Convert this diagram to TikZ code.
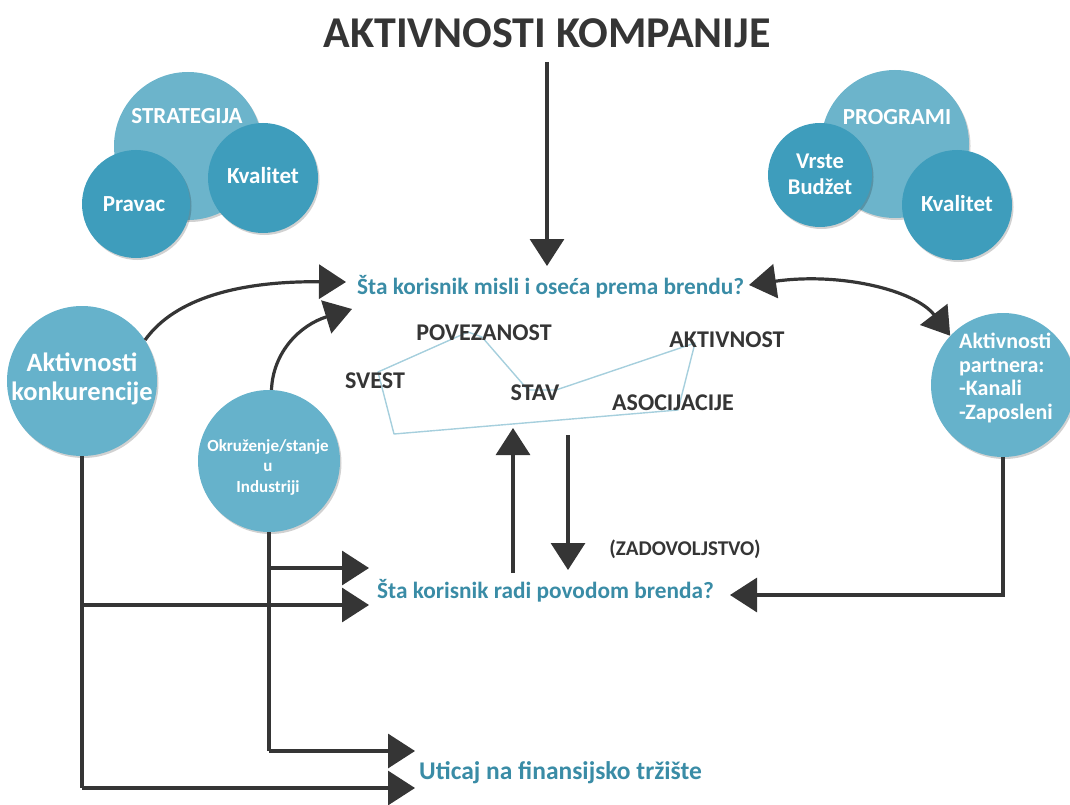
\documentclass[tikz,border=0pt]{standalone}
\usepackage{fontspec}
\setmainfont{Carlito}
\usetikzlibrary{arrows.meta,shadows}

\definecolor{ink}{HTML}{353535}
\definecolor{teal}{HTML}{3A8CA6}
\definecolor{bigblue}{HTML}{6CB4CB}
\definecolor{smallblue}{HTML}{3E9DBC}
\definecolor{sideblue}{HTML}{66B2CB}
\definecolor{webline}{HTML}{A6CFDD}

\tikzset{
  bubble/.style={circle, inner sep=0pt, draw=none,
    drop shadow={shadow xshift=1.5pt, shadow yshift=-2pt, opacity=0.18, fill=black}},
  bigbubble/.style={bubble, fill=bigblue},
  smallbubble/.style={bubble, fill=smallblue},
  sidebubble/.style={bubble, fill=sideblue},
  bubbletext/.style={text=white, font=\bfseries\fontsize{23}{27}\selectfont, align=center, inner sep=0pt},
  question/.style={text=teal, font=\bfseries\fontsize{23.3}{27}\selectfont, inner sep=0pt},
  keyword/.style={text=ink, font=\bfseries\fontsize{24}{27}\selectfont, inner sep=0pt},
  wire/.style={draw=ink, line width=3.2pt},
  conn/.style={wire, -{Triangle[length=27pt,width=34pt]}},
  biconn/.style={wire, {Triangle[length=27pt,width=34pt]}-{Triangle[length=27pt,width=34pt]}},
}

\begin{document}
\begin{tikzpicture}[x=1pt,y=-1pt]
\useasboundingbox (0,0) rectangle (1070,805);

% title
\node[text=ink, font=\bfseries\fontsize{44}{46}\selectfont, inner sep=0pt] (title) at (547,33) {AKTIVNOSTI KOMPANIJE};

% strategy cluster
\node[bigbubble, minimum size=148pt] (strat) at (188,146) {};
\node[smallbubble, minimum size=108pt] (pravac) at (136,204) {};
\node[smallbubble, minimum size=110pt] (kval1) at (263,178) {};
\node[bubbletext] (stratlbl) at (187,116) {STRATEGIJA};
\node[bubbletext] (pravaclbl) at (134,204) {Pravac};
\node[bubbletext] (kval1lbl) at (263,176) {Kvalitet};

% programme cluster
\node[bigbubble, minimum size=148pt] (prog) at (895,144) {};
\node[smallbubble, minimum size=104pt] (vrste) at (820,175) {};
\node[smallbubble, minimum size=110pt] (kval2) at (957,205) {};
\node[bubbletext] (proglbl) at (897,117) {PROGRAMI};
\node[bubbletext, font=\bfseries\fontsize{22.5}{26}\selectfont] (vrstelbl) at (820,174) {Vrste\\Budžet};
\node[bubbletext] (kval2lbl) at (957,204) {Kvalitet};

% side circles
\node[sidebubble, minimum size=150pt] (konk) at (82,381) {};
\node[bubbletext, font=\bfseries\fontsize{26.5}{29}\selectfont] (konklbl) at (82,379) {Aktivnosti\\konkurencije};
\node[sidebubble, minimum size=142pt] (okr) at (269,461) {};
\node[bubbletext, font=\bfseries\fontsize{17}{20.5}\selectfont] (okrlbl) at (268,467) {Okruženje/stanje\\u\\Industriji};
\node[sidebubble, minimum size=144pt] (part) at (1003,385) {};
\node[bubbletext, align=left, font=\bfseries\fontsize{22}{23.5}\selectfont] (partlbl) at (1006,378) {Aktivnosti\\partnera:\\-Kanali\\-Zaposleni};

% questions
\node[question, anchor=west] (q1) at (357,287) {Šta korisnik misli i oseća prema brendu?};
\node[question, anchor=west] (q2) at (377,591) {Šta korisnik radi povodom brenda?};
\node[question, anchor=west, font=\bfseries\fontsize{25.5}{29}\selectfont] (q3) at (419,773) {Uticaj na finansijsko tržište};

% brand associations web
\draw[webline, line width=1.4pt, line join=round]
  (378,372) -- (468,332) -- (482,337) -- (528,390) -- (556,390)
  -- (695,343) -- (678,410) -- (394,434) -- cycle;
\node[keyword] (povez) at (484,333) {POVEZANOST};
\node[keyword] (aktiv) at (727,340) {AKTIVNOST};
\node[keyword] (svest) at (375,381) {SVEST};
\node[keyword] (stav) at (535,393) {STAV};
\node[keyword] (asoc) at (673,403) {ASOCIJACIJE};
\node[keyword, font=\bfseries\fontsize{21}{24}\selectfont] (zadov) at (685,549) {(ZADOVOLJSTVO)};

% connector end points
\coordinate (titletop) at (547,62);
\coordinate (q1top) at (547,266);
\coordinate (q1left) at (346,282);
\coordinate (q1lower) at (352,309);
\coordinate (q1right) at (749,285);
\coordinate (webup) at (513,428);
\coordinate (webdown) at (568,435);
\coordinate (q2up) at (513,573);
\coordinate (q2down) at (568,570);
\coordinate (q2right) at (730,595);
\coordinate (q2a) at (369,568);
\coordinate (q2b) at (369,605);
\coordinate (q3a) at (415,751);
\coordinate (q3b) at (415,788);

% arrows into the thinking level
\draw[conn] (titletop) -- (q1top);
\draw[conn] (konk.33) .. controls (175,298) and (240,281) .. (q1left);
\draw[conn] (okr.88) .. controls (273,352) and (300,325) .. (q1lower);
\draw[biconn] (q1right) .. controls (840,272) and (915,290) .. (part.137);

% between thinking and doing
\draw[conn] (q2up) -- (webup);
\draw[conn] (webdown) -- (q2down);
\draw[conn] (part.south) |- (q2right);

% influences from the left
\draw[wire] (konk.south) -- (konk.south |- q3b);
\draw[conn] (konk.south |- q2b) -- (q2b);
\draw[conn] (konk.south |- q3b) -- (q3b);
\draw[wire] (okr.south) -- (okr.south |- q3a);
\draw[conn] (okr.south |- q2a) -- (q2a);
\draw[conn] (okr.south |- q3a) -- (q3a);
\end{tikzpicture}
\end{document}
